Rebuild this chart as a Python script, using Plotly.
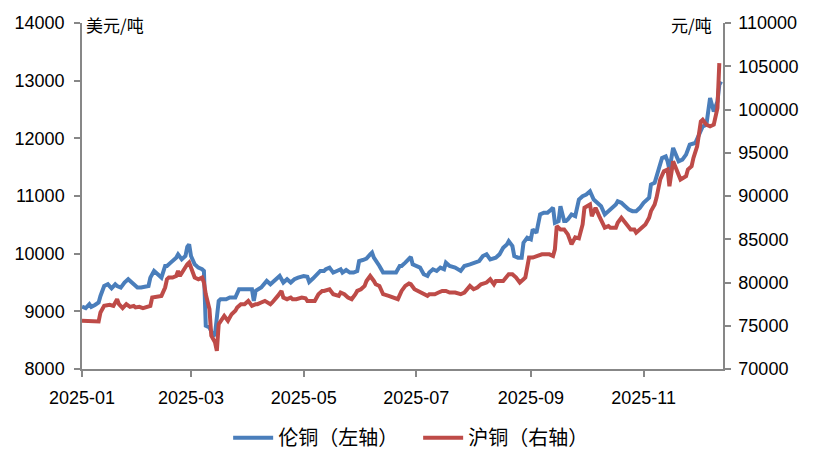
import plotly.graph_objects as go

# LME copper (left axis, USD/t) — dates and values
lme_dates = [
    "2025-01-01", "2025-01-03", "2025-01-05", "2025-01-06", "2025-01-08", "2025-01-10",
    "2025-01-11", "2025-01-13", "2025-01-15", "2025-01-17", "2025-01-19", "2025-01-20",
    "2025-01-22", "2025-01-24", "2025-01-26", "2025-01-28", "2025-01-29", "2025-01-31",
    "2025-02-02", "2025-02-04", "2025-02-06", "2025-02-07", "2025-02-09", "2025-02-11",
    "2025-02-13", "2025-02-15", "2025-02-16", "2025-02-18", "2025-02-21", "2025-02-22",
    "2025-02-24", "2025-02-26", "2025-02-27", "2025-02-28", "2025-03-01", "2025-03-03",
    "2025-03-05", "2025-03-07", "2025-03-08", "2025-03-09", "2025-03-11", "2025-03-13",
    "2025-03-14", "2025-03-16", "2025-03-17", "2025-03-20", "2025-03-22", "2025-03-25",
    "2025-03-27", "2025-03-30", "2025-04-03", "2025-04-04", "2025-04-05", "2025-04-08",
    "2025-04-11", "2025-04-13", "2025-04-15", "2025-04-18", "2025-04-20", "2025-04-22",
    "2025-04-24", "2025-04-26", "2025-04-28", "2025-05-01", "2025-05-03", "2025-05-04",
    "2025-05-06", "2025-05-08", "2025-05-10", "2025-05-12", "2025-05-13", "2025-05-15",
    "2025-05-17", "2025-05-19", "2025-05-21", "2025-05-22", "2025-05-24", "2025-05-26",
    "2025-05-28", "2025-05-30", "2025-05-31", "2025-06-02", "2025-06-04", "2025-06-06",
    "2025-06-07", "2025-06-08", "2025-06-10", "2025-06-11", "2025-06-13", "2025-06-15",
    "2025-06-20", "2025-06-22", "2025-06-23", "2025-06-25", "2025-06-27", "2025-06-28",
    "2025-06-29", "2025-07-01", "2025-07-03", "2025-07-05", "2025-07-07", "2025-07-08",
    "2025-07-10", "2025-07-12", "2025-07-14", "2025-07-16", "2025-07-17", "2025-07-19",
    "2025-07-22", "2025-07-25", "2025-07-27", "2025-07-30", "2025-08-01", "2025-08-03",
    "2025-08-04", "2025-08-06", "2025-08-08", "2025-08-10", "2025-08-13", "2025-08-15",
    "2025-08-17", "2025-08-19", "2025-08-20", "2025-08-22", "2025-08-23", "2025-08-25",
    "2025-08-27", "2025-08-28", "2025-08-30", "2025-09-01", "2025-09-02", "2025-09-04",
    "2025-09-06", "2025-09-08", "2025-09-10", "2025-09-12", "2025-09-13", "2025-09-14",
    "2025-09-16", "2025-09-17", "2025-09-19", "2025-09-20", "2025-09-21", "2025-09-23",
    "2025-09-25", "2025-09-27", "2025-09-29", "2025-10-01", "2025-10-02", "2025-10-03",
    "2025-10-05", "2025-10-07", "2025-10-09", "2025-10-11", "2025-10-13", "2025-10-15",
    "2025-10-17", "2025-10-18", "2025-10-20", "2025-10-22", "2025-10-24", "2025-10-26",
    "2025-10-28", "2025-10-30", "2025-11-01", "2025-11-04", "2025-11-05", "2025-11-07",
    "2025-11-09", "2025-11-11", "2025-11-13", "2025-11-14", "2025-11-15", "2025-11-17",
    "2025-11-20", "2025-11-22", "2025-11-24", "2025-11-26", "2025-11-29", "2025-12-02",
    "2025-12-03", "2025-12-05", "2025-12-07", "2025-12-09", "2025-12-11", "2025-12-12",
    "2025-12-13",
]
lme_values = [
    9080, 9055, 9124, 9077, 9111, 9153,
    9267, 9440, 9469, 9400, 9469, 9440,
    9412, 9499, 9556, 9499, 9469, 9412,
    9412, 9423, 9440, 9585, 9700, 9642,
    9585, 9786, 9786, 9845, 9931, 9988,
    9902, 9959, 10120, 10161, 9959, 9815,
    9758, 9729, 9700, 8750, 8721, 8576,
    8600, 9181, 9210, 9210, 9240, 9240,
    9383, 9383, 9383, 9181, 9354, 9413,
    9527, 9470, 9527, 9613, 9499, 9556,
    9499, 9556, 9585, 9613, 9600, 9509,
    9568, 9642, 9700, 9700, 9729, 9758,
    9672, 9700, 9729, 9672, 9717, 9672,
    9672, 9700, 9872, 9890, 9914, 9988,
    10018, 9931, 9845, 9786, 9672, 9672,
    9672, 9786, 9786, 9845, 9902, 9942,
    9815, 9786, 9758, 9642, 9613, 9672,
    9729, 9700, 9758, 9729, 9845, 9786,
    9758, 9700, 9786, 9815, 9845, 9872,
    9872, 9959, 9988, 9902, 9931, 9988,
    10104, 10161, 10218, 10132, 9959, 9931,
    9931, 10191, 10277, 10248, 10421, 10363,
    10680, 10709, 10709, 10766, 10796, 10536,
    10565, 10823, 10565, 10565, 10594, 10680,
    10651, 10939, 10997, 11025, 11064, 11082,
    10939, 10881, 10824, 10680, 10737, 10795,
    10853, 10910, 10882, 10824, 10766, 10737,
    10737, 10795, 10882, 10969, 11199, 11227,
    11458, 11660, 11688, 11602, 11458, 11833,
    11602, 11631, 11717, 11890, 11919, 12120,
    12206, 12235, 12698, 12466, 12639, 12928,
    12985, 12783, 12950,
]

# SHFE copper (right axis, CNY/t)
shfe_dates = [
    "2025-01-01", "2025-01-05", "2025-01-10", "2025-01-11", "2025-01-13", "2025-01-16",
    "2025-01-18", "2025-01-20", "2025-01-21", "2025-01-23", "2025-01-25", "2025-01-27",
    "2025-01-29", "2025-01-30", "2025-02-01", "2025-02-03", "2025-02-05", "2025-02-07",
    "2025-02-08", "2025-02-10", "2025-02-13", "2025-02-15", "2025-02-16", "2025-02-17",
    "2025-02-19", "2025-02-21", "2025-02-22", "2025-02-23", "2025-02-25", "2025-02-26",
    "2025-02-27", "2025-02-28", "2025-03-01", "2025-03-03", "2025-03-05", "2025-03-07",
    "2025-03-08", "2025-03-09", "2025-03-11", "2025-03-12", "2025-03-14", "2025-03-15",
    "2025-03-16", "2025-03-17", "2025-03-19", "2025-03-21", "2025-03-23", "2025-03-25",
    "2025-03-26", "2025-03-28", "2025-03-30", "2025-04-01", "2025-04-03", "2025-04-05",
    "2025-04-06", "2025-04-08", "2025-04-10", "2025-04-13", "2025-04-14", "2025-04-17",
    "2025-04-19", "2025-04-20", "2025-04-22", "2025-04-24", "2025-04-25", "2025-04-27",
    "2025-04-30", "2025-05-02", "2025-05-03", "2025-05-05", "2025-05-07", "2025-05-09",
    "2025-05-11", "2025-05-12", "2025-05-15", "2025-05-17", "2025-05-20", "2025-05-21",
    "2025-05-23", "2025-05-25", "2025-05-27", "2025-05-29", "2025-05-30", "2025-06-01",
    "2025-06-03", "2025-06-04", "2025-06-06", "2025-06-08", "2025-06-09", "2025-06-11",
    "2025-06-13", "2025-06-16", "2025-06-18", "2025-06-21", "2025-06-23", "2025-06-25",
    "2025-06-27", "2025-06-28", "2025-06-30", "2025-07-02", "2025-07-05", "2025-07-07",
    "2025-07-08", "2025-07-11", "2025-07-13", "2025-07-15", "2025-07-17", "2025-07-19",
    "2025-07-22", "2025-07-25", "2025-07-27", "2025-07-30", "2025-08-01", "2025-08-03",
    "2025-08-05", "2025-08-08", "2025-08-10", "2025-08-12", "2025-08-13", "2025-08-17",
    "2025-08-20", "2025-08-22", "2025-08-24", "2025-08-26", "2025-08-28", "2025-08-29",
    "2025-08-31", "2025-09-02", "2025-09-07", "2025-09-10", "2025-09-11", "2025-09-13",
    "2025-09-14", "2025-09-15", "2025-09-17", "2025-09-19", "2025-09-21", "2025-09-23",
    "2025-09-25", "2025-09-27", "2025-09-29", "2025-09-30", "2025-10-02", "2025-10-03",
    "2025-10-04", "2025-10-06", "2025-10-08", "2025-10-09", "2025-10-11", "2025-10-13",
    "2025-10-14", "2025-10-17", "2025-10-18", "2025-10-20", "2025-10-23", "2025-10-25",
    "2025-10-27", "2025-10-28", "2025-10-31", "2025-11-02", "2025-11-04", "2025-11-05",
    "2025-11-07", "2025-11-08", "2025-11-10", "2025-11-12", "2025-11-14", "2025-11-15",
    "2025-11-17", "2025-11-19", "2025-11-21", "2025-11-24", "2025-11-25", "2025-11-27",
    "2025-11-28", "2025-11-30", "2025-12-02", "2025-12-03", "2025-12-05", "2025-12-07",
    "2025-12-09", "2025-12-11", "2025-12-12",
]
shfe_values = [
    75569, 75550, 75500, 76537, 77298, 77413,
    77298, 78070, 77494, 77033, 77494, 77183,
    77298, 77113, 77183, 77033, 77113, 77298,
    78266, 78336, 78451, 79419, 80376, 80571,
    80571, 80756, 81332, 80756, 81528, 81909,
    82105, 82301, 81724, 80571, 80376, 80571,
    79995, 78647, 76918, 73840, 73079, 72111,
    75188, 75569, 76145, 75569, 76341, 76722,
    77113, 77494, 77494, 77874, 77298, 77494,
    77494, 77690, 77874, 77494, 77690, 78451,
    79027, 78266, 78070, 78266, 78070, 78070,
    78266, 78186, 77874, 77874, 77874, 78647,
    79027, 79027, 79223, 78647, 78451, 78843,
    78647, 78266, 78070, 78647, 79027, 79223,
    79603, 80180, 80756, 80180, 79799, 79603,
    78647, 78451, 78266, 78070, 79027, 79603,
    79880, 79799, 79223, 79027, 78647, 78451,
    78647, 78647, 78843, 79027, 79027, 78843,
    78843, 78647, 78843, 79603, 79223, 79419,
    79799, 79995, 80376, 79799, 80180, 80180,
    80952, 80952, 80571, 79995, 80376, 80571,
    82877, 82877, 83257, 83257, 83257, 83061,
    83834, 86520, 86139, 86139, 85563, 84410,
    85217, 85100, 86715, 88640, 88824, 89021,
    87672, 88640, 87672, 87292, 86335, 86520,
    86335, 86335, 86911, 87488, 86715, 86139,
    86139, 85759, 86335, 86715, 87488, 88249,
    89021, 89793, 91903, 92859, 93055, 91130,
    94012, 93055, 91903, 92283, 93055, 93436,
    94404, 95741, 98623, 98819, 98242, 98046,
    98242, 100167, 105355, 103430, 101505,
]

left_ticks = [8000, 9000, 10000, 11000, 12000, 13000, 14000]
right_ticks = [70000, 75000, 80000, 85000, 90000, 95000, 100000, 105000, 110000]

BLUE = "#4A7EBB"
RED = "#BE4B48"
AXIS = "#878787"
TICK_FONT = dict(family="Liberation Sans, Arial, sans-serif", size=18, color="#000000")
CJK = "Noto Sans CJK SC"

fig = go.Figure()
fig.add_trace(go.Scatter(
    x=lme_dates, y=lme_values, name="伦铜（左轴）", mode="lines",
    line=dict(color=BLUE, width=4), yaxis="y",
))
fig.add_trace(go.Scatter(
    x=shfe_dates, y=shfe_values, name="沪铜（右轴）", mode="lines",
    line=dict(color=RED, width=4), yaxis="y2",
))

# the page body adds an 8px offset, so the figure is drawn 8px smaller
fig.update_layout(
    width=806, height=460,
    margin=dict(l=74, r=91, t=15, b=98),
    paper_bgcolor="white", plot_bgcolor="white",
    showlegend=True,
    legend=dict(
        orientation="h", x=0.228, xanchor="left", y=-0.195, yanchor="middle",
        font=dict(family=CJK, size=20, color="#000000"),
        itemwidth=40, tracegroupgap=0,
        entrywidth=135, entrywidthmode="pixels",
    ),
    xaxis=dict(
        type="date", range=["2025-01-01", "2025-12-14"],
        tick0="2025-01-01", dtick="M2", tickformat="%Y-%m",
        showgrid=False, zeroline=False,
        showline=True, linecolor=AXIS, linewidth=1.5,
        ticks="outside", ticklen=6, tickcolor=AXIS, tickwidth=1.5,
        tickfont=TICK_FONT, automargin=False, ticklabelstandoff=6,
    ),
    yaxis=dict(
        range=[8000, 14000], tickvals=left_ticks,
        ticktext=[str(v) for v in left_ticks],
        showgrid=False, zeroline=False,
        showline=True, linecolor=AXIS, linewidth=1.5,
        ticks="outside", ticklen=6, tickcolor=AXIS, tickwidth=1.5,
        tickfont=TICK_FONT, automargin=False, ticklabelstandoff=6,
    ),
    yaxis2=dict(
        range=[70000, 110000], tickvals=right_ticks,
        ticktext=[str(v) for v in right_ticks],
        overlaying="y", side="right",
        showgrid=False, zeroline=False,
        showline=True, linecolor=AXIS, linewidth=1.5,
        ticks="outside", ticklen=6, tickcolor=AXIS, tickwidth=1.5,
        tickfont=TICK_FONT, automargin=False, ticklabelstandoff=4,
    ),
    annotations=[
        dict(text="美元/吨", xref="paper", yref="paper", x=0, y=1,
             xanchor="left", yanchor="middle", xshift=2, yshift=-1, showarrow=False,
             font=dict(family=CJK, size=17, color="#000000")),
        dict(text="元/吨", xref="paper", yref="paper", x=1, y=1,
             xanchor="right", yanchor="middle", xshift=-9, yshift=-1, showarrow=False,
             font=dict(family=CJK, size=17, color="#000000")),
    ],
)

fig.write_html("out.html")
